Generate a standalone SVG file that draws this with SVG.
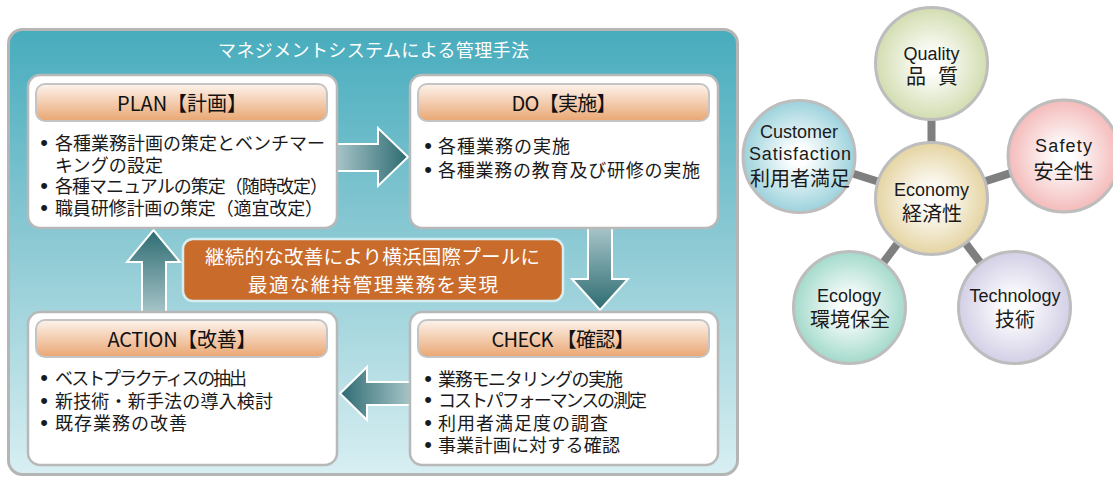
<svg xmlns="http://www.w3.org/2000/svg" width="1113" height="477" viewBox="0 0 1113 477">
<defs>
<linearGradient id="gPanel" x1="0" y1="0" x2="0" y2="1">
<stop offset="0" stop-color="#47acbd"/>
<stop offset="0.5" stop-color="#8fcbd5"/>
<stop offset="1" stop-color="#d8eff2"/>
</linearGradient>
<linearGradient id="gHead" x1="0" y1="0" x2="0" y2="1">
<stop offset="0" stop-color="#fdf3ec"/>
<stop offset="1" stop-color="#e9a672"/>
</linearGradient>
<linearGradient id="gRight" x1="0" y1="0" x2="1" y2="0">
<stop offset="0" stop-color="#a9c6ca"/>
<stop offset="1" stop-color="#2c6b71"/>
</linearGradient>
<linearGradient id="gLeft" x1="1" y1="0" x2="0" y2="0">
<stop offset="0" stop-color="#a9c6ca"/>
<stop offset="1" stop-color="#2c6b71"/>
</linearGradient>
<linearGradient id="gDown" x1="0" y1="0" x2="0" y2="1">
<stop offset="0" stop-color="#a9c6ca"/>
<stop offset="1" stop-color="#2c6b71"/>
</linearGradient>
<linearGradient id="gUp" x1="0" y1="1" x2="0" y2="0">
<stop offset="0" stop-color="#a9c6ca"/>
<stop offset="1" stop-color="#2c6b71"/>
</linearGradient>
<radialGradient id="rQ"><stop offset="0.15" stop-color="#ffffff"/><stop offset="1" stop-color="#d2ddb0"/></radialGradient>
<radialGradient id="rC"><stop offset="0.15" stop-color="#ffffff"/><stop offset="1" stop-color="#9cd2dc"/></radialGradient>
<radialGradient id="rS"><stop offset="0.15" stop-color="#ffffff"/><stop offset="1" stop-color="#f4baba"/></radialGradient>
<radialGradient id="rE"><stop offset="0.15" stop-color="#ffffff"/><stop offset="1" stop-color="#e5d4a2"/></radialGradient>
<radialGradient id="rG"><stop offset="0.15" stop-color="#ffffff"/><stop offset="1" stop-color="#a3dacb"/></radialGradient>
<radialGradient id="rT"><stop offset="0.15" stop-color="#ffffff"/><stop offset="1" stop-color="#d3cfe6"/></radialGradient>
</defs>
<style>
.jp{font-family:"Noto Sans CJK JP","Noto Sans",sans-serif;}
.box{fill:#ffffff;stroke:#b8b8b8;stroke-width:2.5;}
.head{fill:url(#gHead);stroke:#c4c4c4;stroke-width:2;}
.htxt{font-family:"Noto Sans CJK JP",sans-serif;font-size:20px;fill:#111111;text-anchor:middle;}
.btxt{font-family:"Noto Sans CJK JP",sans-serif;font-size:18px;fill:#1a1a1a;}
.dot{font-family:"Liberation Sans",sans-serif;font-size:22px;fill:#1a1a1a;text-anchor:middle;}
.arrow{stroke:#ffffff;stroke-width:2;}
.bar{stroke:#7f7f7f;stroke-width:8;}
.circ{stroke:#bdbdbd;stroke-width:3;}
.ctxt{font-family:"Liberation Sans","Noto Sans CJK JP",sans-serif;font-size:18px;fill:#1a1a1a;text-anchor:middle;}
.cjk{font-family:"Noto Sans CJK JP",sans-serif;font-size:20px;fill:#1a1a1a;text-anchor:middle;}
</style>

<g id="panel">
<rect x="8.5" y="29.5" width="729" height="445" rx="14" fill="url(#gPanel)" stroke="#b5b5b5" stroke-width="3"/>
<text x="373.5" y="56.5" class="jp" font-size="18" fill="#ffffff" text-anchor="middle" textLength="311">マネジメントシステムによる管理手法</text>
</g>

<g id="connectors">
<polygon class="arrow" fill="url(#gRight)" points="335,144 378,144 378,128 408,157 378,186 378,171 335,171"/>
<polygon class="arrow" fill="url(#gDown)" points="588,226 612,226 612,279 628,279 600,310 572,279 588,279"/>
<polygon class="arrow" fill="url(#gLeft)" points="412,382 367,382 367,367 340,393.5 367,420 367,405 412,405"/>
<polygon class="arrow" fill="url(#gUp)" points="142,314 142,262 127,262 153.5,230 180,262 166,262 166,314"/>
<line class="bar" x1="931.5" y1="198.5" x2="931.5" y2="63.5"/>
<line class="bar" x1="931.5" y1="198.5" x2="799" y2="156.5"/>
<line class="bar" x1="931.5" y1="198.5" x2="1064" y2="156"/>
<line class="bar" x1="931.5" y1="198.5" x2="849.5" y2="307.5"/>
<line class="bar" x1="931.5" y1="198.5" x2="1014.5" y2="307.5"/>
</g>

<g id="plan">
<rect class="box" x="28" y="75" width="309" height="153" rx="12"/>
<rect class="head" x="36" y="84" width="291" height="37" rx="9"/>
<text class="htxt" x="182" y="111" textLength="130">PLAN【計画】</text>
<text class="dot" x="44" y="150">•</text>
<text class="btxt" x="55" y="150" textLength="270">各種業務計画の策定とベンチマー</text>
<text class="btxt" x="55" y="172" textLength="108">キングの設定</text>
<text class="dot" x="44" y="193">•</text>
<text class="btxt" x="55" y="193" textLength="273">各種マニュアルの策定（随時改定）</text>
<text class="dot" x="44" y="215">•</text>
<text class="btxt" x="55" y="215" textLength="268">職員研修計画の策定（適宜改定）</text>
</g>

<g id="do">
<rect class="box" x="410" y="75" width="308" height="153" rx="12"/>
<rect class="head" x="418" y="84" width="291" height="37" rx="9"/>
<text class="htxt" x="564" y="111" textLength="105">DO【実施】</text>
<text class="dot" x="428" y="153">•</text>
<text class="btxt" x="438" y="153" textLength="132">各種業務の実施</text>
<text class="dot" x="428" y="177">•</text>
<text class="btxt" x="438" y="177" textLength="262">各種業務の教育及び研修の実施</text>
</g>

<g id="check">
<rect class="box" x="410" y="312" width="308" height="153" rx="12"/>
<rect class="head" x="418" y="320" width="291" height="37" rx="9"/>
<text class="htxt" x="563" y="346.5" textLength="143">CHECK 【確認】</text>
<text class="dot" x="428" y="386">•</text>
<text class="btxt" x="438" y="386" textLength="185">業務モニタリングの実施</text>
<text class="dot" x="428" y="407">•</text>
<text class="btxt" x="438" y="407" textLength="209">コストパフォーマンスの測定</text>
<text class="dot" x="428" y="430">•</text>
<text class="btxt" x="438" y="430" textLength="170">利用者満足度の調査</text>
<text class="dot" x="428" y="452">•</text>
<text class="btxt" x="438" y="452" textLength="182">事業計画に対する確認</text>
</g>

<g id="action">
<rect class="box" x="28" y="312" width="309" height="153" rx="12"/>
<rect class="head" x="36" y="320" width="291" height="37" rx="9"/>
<text class="htxt" x="182" y="346.5" textLength="149">ACTION【改善】</text>
<text class="dot" x="44" y="385">•</text>
<text class="btxt" x="55" y="385" textLength="192">ベストプラクティスの抽出</text>
<text class="dot" x="44" y="408">•</text>
<text class="btxt" x="55" y="408" textLength="218">新技術・新手法の導入検討</text>
<text class="dot" x="44" y="430">•</text>
<text class="btxt" x="55" y="430" textLength="132">既存業務の改善</text>
</g>

<g id="banner">
<rect x="183" y="239" width="380" height="62" rx="10" fill="#c96b2b" stroke="#d6eef1" stroke-width="2.5"/>
<text x="372.5" y="263.5" class="jp" font-size="19.5" fill="#ffffff" text-anchor="middle" textLength="335">継続的な改善により横浜国際プールに</text>
<text x="373" y="292" class="jp" font-size="19.5" fill="#ffffff" text-anchor="middle" textLength="250">最適な維持管理業務を実現</text>
</g>

<g id="quality">
<circle class="circ" cx="931.5" cy="63.5" r="56" fill="url(#rQ)"/>
<text class="ctxt" x="931.5" y="60">Quality</text>
<text class="cjk" x="932" y="84" textLength="52">品　質</text>
</g>

<g id="customer">
<circle class="circ" cx="799" cy="156.5" r="56" fill="url(#rC)"/>
<text class="ctxt" x="799" y="138" textLength="78">Customer</text>
<text class="ctxt" x="800" y="160" textLength="102">Satisfaction</text>
<text class="cjk" x="800" y="186">利用者満足</text>
</g>

<g id="safety">
<circle class="circ" cx="1064" cy="156" r="56" fill="url(#rS)"/>
<text class="ctxt" x="1063.5" y="152" textLength="57">Safety</text>
<text class="cjk" x="1063.5" y="179">安全性</text>
</g>

<g id="economy">
<circle class="circ" cx="931.5" cy="198.5" r="56" fill="url(#rE)"/>
<text class="ctxt" x="931.5" y="196">Economy</text>
<text class="cjk" x="932" y="221">経済性</text>
</g>

<g id="ecology">
<circle class="circ" cx="849.5" cy="307.5" r="56" fill="url(#rG)"/>
<text class="ctxt" x="849" y="302">Ecology</text>
<text class="cjk" x="850" y="327">環境保全</text>
</g>

<g id="technology">
<circle class="circ" cx="1014.5" cy="307.5" r="56" fill="url(#rT)"/>
<text class="ctxt" x="1015" y="302">Technology</text>
<text class="cjk" x="1015" y="327">技術</text>
</g>
</svg>
